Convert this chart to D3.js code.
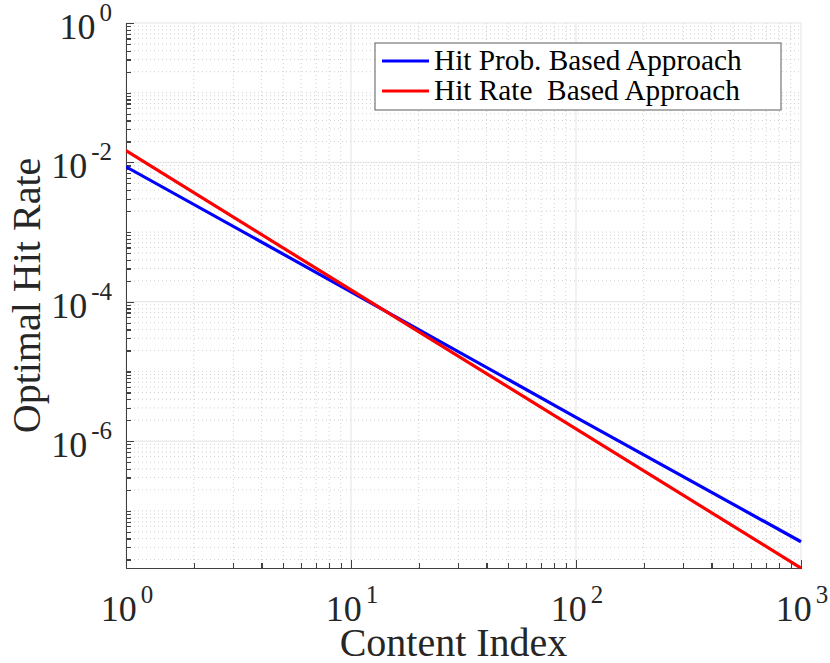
<!DOCTYPE html>
<meta charset="utf-8">
<style>
body { margin: 0; background: #fff; }
text { font-family: "Liberation Serif", "DejaVu Serif", serif; fill: #262626; }
.grid-major line { stroke: #e3e3e3; stroke-width: 1; }
.grid-minor line { stroke: #d0d0d0; stroke-width: 1; stroke-dasharray: 1,3; }
.axis path, .axis line { stroke: #404040; stroke-width: 1.2; fill: none; shape-rendering: crispEdges; }
</style>
<body>
<svg id="chart" width="830" height="663"></svg>
<script src="https://d3js.org/d3.v7.min.js"></script>
<script>
// values (log-log straight lines)
var contentIndex = [1, 10, 100, 1000];
var hitProbSeries = [8.65e-3, 1.39e-4, 2.2e-6, 3.6e-8];
var hitRateSeries = [1.47e-2, 1.48e-4, 1.5e-6, 1.51e-8];
var seriesNames = ["Hit Prob. Based Approach", "Hit Rate  Based Approach"];
var seriesColors = ["#0000ff", "#ff0000"];
var xTickExps = [0, 1, 2, 3];
var yTickExps = [0, -2, -4, -6];

var margin = {left: 126, right: 29, top: 23, bottom: 95},
    width = 830 - margin.left - margin.right,
    height = 663 - margin.top - margin.bottom;

var svg = d3.select("#chart");
var g = svg.append("g").attr("transform", `translate(${margin.left},${margin.top})`);

var x = d3.scaleLog().domain([1, 1000]).range([0, width]);
var y = d3.scaleLog().domain([Math.pow(10, -7.82), 1]).range([height, 0]);

// minor values
var xMinor = [], yMinor = [];
for (var e = 0; e < 3; e++) for (var m = 2; m <= 9; m++) xMinor.push(m * Math.pow(10, e));
for (var e = -8; e < 0; e++) for (var m = 1; m <= 9; m++) {
  var v = m * Math.pow(10, e);
  if (v < y.domain()[0]) continue;
  if (m > 1 || yTickExps.indexOf(e) < 0) yMinor.push(v);
}

// grid
var gm = g.append("g").attr("class", "grid-minor");
gm.selectAll(".gx").data(xMinor).enter().append("line")
  .attr("x1", d => x(d)).attr("x2", d => x(d)).attr("y1", 0).attr("y2", height);
gm.selectAll(".gy").data(yMinor).enter().append("line")
  .attr("x1", 0).attr("x2", width).attr("y1", d => y(d)).attr("y2", d => y(d));

var gM = g.append("g").attr("class", "grid-major");
gM.selectAll(".gx").data(xTickExps).enter().append("line")
  .attr("x1", d => x(Math.pow(10, d))).attr("x2", d => x(Math.pow(10, d))).attr("y1", 0).attr("y2", height);
gM.selectAll(".gy").data(yTickExps).enter().append("line")
  .attr("x1", 0).attr("x2", width).attr("y1", d => y(Math.pow(10, d))).attr("y2", d => y(Math.pow(10, d)));

// axes (ticks inward, labels drawn separately)
g.append("g").attr("class", "axis")
  .attr("transform", `translate(0,${height})`)
  .call(d3.axisBottom(x).tickValues(xMinor).tickSize(-5).tickSizeOuter(0).tickFormat(""));
g.append("g").attr("class", "axis")
  .attr("transform", `translate(0,${height})`)
  .call(d3.axisBottom(x).tickValues(xTickExps.map(d => Math.pow(10, d))).tickSize(-8).tickSizeOuter(0).tickFormat(""));
g.append("g").attr("class", "axis")
  .call(d3.axisLeft(y).tickValues(yMinor).tickSize(-5).tickSizeOuter(0).tickFormat(""));
g.append("g").attr("class", "axis")
  .call(d3.axisLeft(y).tickValues(yTickExps.map(d => Math.pow(10, d))).tickSize(-8).tickSizeOuter(0).tickFormat(""));

// tick labels with superscripts
function powLabel(sel) {
  sel.append("tspan").text("10");
  sel.append("tspan").attr("dx", 4).attr("dy", -18).style("font-size", "25px").text(d => d < 0 ? "-" + (-d) : d);
}
g.selectAll(".xl").data(xTickExps).enter().append("text")
  .attr("x", d => x(Math.pow(10, d)) + 1).attr("y", height + 53)
  .attr("text-anchor", "middle").style("font-size", "36px")
  .call(powLabel);
g.selectAll(".yl").data(yTickExps).enter().append("text")
  .attr("x", -14).attr("y", d => y(Math.pow(10, d)) + 16)
  .attr("text-anchor", "end").style("font-size", "36px")
  .call(powLabel);

// lines
g.append("clipPath").attr("id", "clip").append("rect")
  .attr("x", 0).attr("y", -2).attr("width", width + 2).attr("height", height + 4);
var line = d3.line().x(d => x(d[0])).y(d => y(d[1]));
[hitProbSeries, hitRateSeries].forEach(function (s, i) {
  g.append("path")
    .datum(contentIndex.map((c, j) => [c, s[j]]))
    .attr("d", line)
    .attr("clip-path", "url(#clip)")
    .attr("fill", "none")
    .attr("stroke", seriesColors[i])
    .attr("stroke-width", 3.2);
});

// axis titles
svg.append("text")
  .attr("x", margin.left + width / 2 - 10).attr("y", 656)
  .attr("text-anchor", "middle").style("font-size", "40px")
  .text("Content Index");
svg.append("text")
  .attr("transform", `translate(40,${margin.top + height / 2}) rotate(-90)`)
  .attr("text-anchor", "middle").style("font-size", "40px")
  .text("Optimal Hit Rate");

// legend
var lg = svg.append("g").attr("transform", "translate(375,43)");
lg.append("rect").attr("width", 406).attr("height", 67)
  .attr("fill", "#fff").attr("stroke", "#777").attr("stroke-width", 1.2);
seriesNames.forEach(function (n, i) {
  lg.append("line").attr("x1", 7).attr("x2", 54).attr("y1", 18 + i * 30).attr("y2", 18 + i * 30)
    .attr("stroke", seriesColors[i]).attr("stroke-width", 3.2);
  lg.append("text").attr("x", 59).attr("y", 27 + i * 30)
    .style("font-size", "29.3px").style("white-space", "pre").attr("xml:space", "preserve")
    .style("fill", "#000").text(n);
});
</script>
</body>
